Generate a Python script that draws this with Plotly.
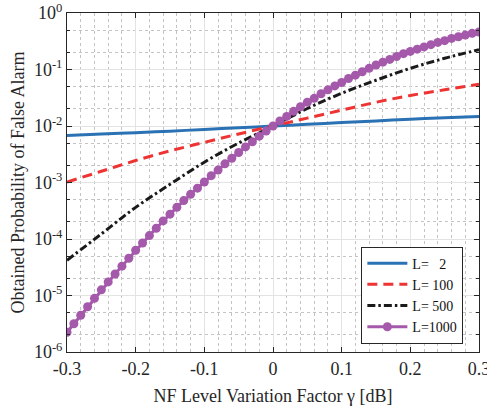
import plotly.graph_objects as go

# NF level variation factor gamma [dB]
gamma_coarse = [-0.30, -0.25, -0.20, -0.15, -0.10, -0.05, 0.00,
                0.05, 0.10, 0.15, 0.20, 0.25, 0.30]
gamma_fine = [round(-0.30 + 0.01 * i, 2) for i in range(61)]

# Obtained probability of false alarm
pfa_L2 = [6.8e-3, 7.2e-3, 7.6e-3, 8.1e-3, 8.7e-3, 9.3e-3, 1.0e-2,
          1.07e-2, 1.15e-2, 1.23e-2, 1.32e-2, 1.40e-2, 1.48e-2]
pfa_L100 = [1.02e-3, 1.58e-3, 2.45e-3, 3.63e-3, 5.13e-3, 7.24e-3, 1.0e-2,
            1.38e-2, 1.91e-2, 2.63e-2, 3.47e-2, 4.37e-2, 5.50e-2]
pfa_L500 = [4.2e-5, 1.23e-4, 3.63e-4, 9.3e-4, 2.29e-3, 5.0e-3, 1.0e-2,
            2.04e-2, 3.80e-2, 6.46e-2, 1.05e-1, 1.58e-1, 2.24e-1]
pfa_L1000 = [
    2.24e-6, 3.16e-6, 4.47e-6, 6.31e-6, 8.91e-6, 1.26e-5, 1.74e-5, 2.40e-5,
    3.31e-5, 4.57e-5, 6.31e-5, 8.51e-5, 1.15e-4, 1.55e-4, 2.09e-4, 2.75e-4,
    3.63e-4, 4.79e-4, 6.17e-4, 7.94e-4, 1.02e-3, 1.32e-3, 1.66e-3, 2.14e-3,
    2.69e-3, 3.39e-3, 4.27e-3, 5.25e-3, 6.61e-3, 8.13e-3, 1.00e-2, 1.23e-2,
    1.48e-2, 1.82e-2, 2.19e-2, 2.63e-2, 3.09e-2, 3.72e-2, 4.37e-2, 5.13e-2,
    5.89e-2, 6.92e-2, 7.94e-2, 9.12e-2, 1.05e-1, 1.20e-1, 1.35e-1, 1.51e-1,
    1.70e-1, 1.91e-1, 2.09e-1, 2.29e-1, 2.51e-1, 2.75e-1, 3.02e-1, 3.24e-1,
    3.55e-1, 3.80e-1, 4.07e-1, 4.37e-1, 4.62e-1]

series_names = ["L=\u00a0\u00a0\u00a02", "L=\u00a0100", "L=\u00a0500", "L=1000"]

x_ticks = [-0.3, -0.2, -0.1, 0, 0.1, 0.2, 0.3]
x_tick_text = ["-0.3", "-0.2", "-0.1", "0", "0.1", "0.2", "0.3"]
y_ticks = [1e-6, 1e-5, 1e-4, 1e-3, 1e-2, 1e-1, 1e0]
y_tick_text = ["10<sup>-6</sup>", "10<sup>-5</sup>", "10<sup>-4</sup>",
               "10<sup>-3</sup>", "10<sup>-2</sup>", "10<sup>-1</sup>",
               "10<sup>0</sup>"]

FONT = "Liberation Serif"
INK = "#262626"

fig = go.Figure()
fig.add_trace(go.Scatter(
    x=gamma_coarse, y=pfa_L2, mode="lines", name=series_names[0],
    line=dict(color="#2B72B4", width=3, shape="spline")))
fig.add_trace(go.Scatter(
    x=gamma_coarse, y=pfa_L100, mode="lines", name=series_names[1],
    line=dict(color="#EE3333", width=3, dash="10px,6px", shape="spline")))
fig.add_trace(go.Scatter(
    x=gamma_coarse, y=pfa_L500, mode="lines", name=series_names[2],
    line=dict(color="#1A1A1A", width=3, dash="8px,3px,2.5px,3px",
              shape="spline")))
fig.add_trace(go.Scatter(
    x=gamma_fine, y=pfa_L1000, mode="lines+markers", name=series_names[3],
    line=dict(color="#A459AB", width=3),
    marker=dict(color="#A459AB", size=9, line=dict(width=0))))

fig.update_xaxes(
    range=[-0.30001, 0.30001], tickmode="array",
    tickvals=x_ticks, ticktext=x_tick_text, ticklabeloverflow="allow",
    tickfont=dict(family=FONT, size=18, color=INK),
    showline=True, linecolor=INK, linewidth=1, mirror="ticks",
    ticks="inside", ticklen=5, tickcolor=INK,
    showgrid=True, gridcolor="#E3E3E3", gridwidth=1, zeroline=False,
    minor=dict(dtick=0.02, showgrid=True, gridcolor="#C4C4C4",
               griddash="dot", ticks=""),
    title=dict(text="NF Level Variation Factor \u03b3 [dB]",
               font=dict(family=FONT, size=18, color=INK),
               standoff=11))
fig.update_yaxes(
    type="log", range=[-6.0001, 0.0001], tickmode="array",
    tickvals=y_ticks, ticktext=y_tick_text, ticklabeloverflow="allow",
    tickfont=dict(family=FONT, size=18, color=INK),
    showline=True, linecolor=INK, linewidth=1, mirror="ticks",
    ticks="inside", ticklen=5, tickcolor=INK,
    showgrid=True, gridcolor="#E3E3E3", gridwidth=1, zeroline=False,
    minor=dict(showgrid=True, gridcolor="#C4C4C4", griddash="dot",
               ticks="inside", ticklen=3, tickcolor=INK),
    title=dict(text="Obtained Probability of False Alarm",
               font=dict(family=FONT, size=18, color=INK),
               standoff=4))

fig.update_layout(
    width=487, height=409,
    margin=dict(l=67, r=8, t=13, b=57, autoexpand=False),
    paper_bgcolor="white", plot_bgcolor="white",
    font=dict(family=FONT, size=18, color=INK),
    legend=dict(
        x=0.962, y=0.025, xanchor="right", yanchor="bottom",
        bgcolor="white", bordercolor=INK, borderwidth=1,
        font=dict(family=FONT, size=14, color="#111111"),
        tracegroupgap=0, itemwidth=40,
    ),
    showlegend=True,
)

fig.write_html("out.html")
